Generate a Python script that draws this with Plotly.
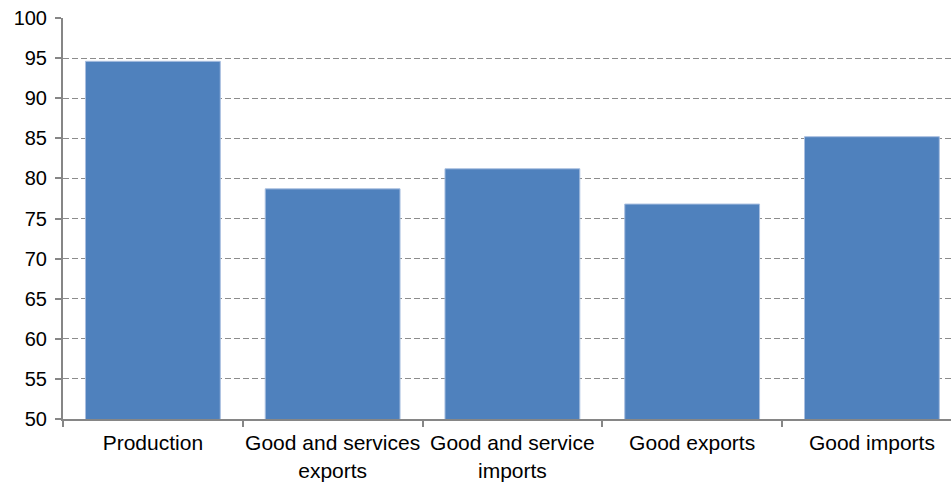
import plotly.graph_objects as go

# Index values by category
categories = [
    "Production",
    "Good and services<br>exports",
    "Good and service<br>imports",
    "Good exports",
    "Good imports",
]
values = [94.6, 78.7, 81.2, 76.8, 85.2]
y_ticks = list(range(50, 101, 5))

fig = go.Figure(
    go.Bar(
        x=categories,
        y=values,
        marker=dict(color="#4F81BD", line=dict(color="#A9BFE0", width=1)),
        width=0.75,
    )
)

x_font = dict(family="Liberation Sans, Arial, sans-serif", size=21, color="#000000")
y_font = dict(family="Liberation Sans, Arial, sans-serif", size=20, color="#000000")

fig.update_layout(
    width=951,
    height=485,
    margin=dict(l=63, r=0, t=18, b=66),
    paper_bgcolor="white",
    plot_bgcolor="white",
    showlegend=False,
    bargap=0.25,
)

fig.update_xaxes(
    type="category",
    range=[-0.5, 4.44],
    showline=True,
    linecolor="#868686",
    linewidth=2,
    ticks="outside",
    tickson="boundaries",
    ticklen=6,
    tickcolor="#868686",
    tickwidth=1.5,
    tickfont=x_font,
    tickangle=0,
    ticklabelstandoff=4,
    automargin=False,
    showgrid=False,
)

fig.update_yaxes(
    range=[50, 100],
    tickvals=y_ticks,
    showline=True,
    linecolor="#868686",
    linewidth=2,
    ticks="outside",
    ticklen=6,
    tickcolor="#868686",
    tickwidth=1.5,
    tickfont=y_font,
    ticklabelstandoff=4,
    automargin=False,
    showgrid=True,
    gridcolor="#8C8C8C",
    griddash="6px,3px",
    gridwidth=1,
    zeroline=False,
)

fig.write_html("out.html")
